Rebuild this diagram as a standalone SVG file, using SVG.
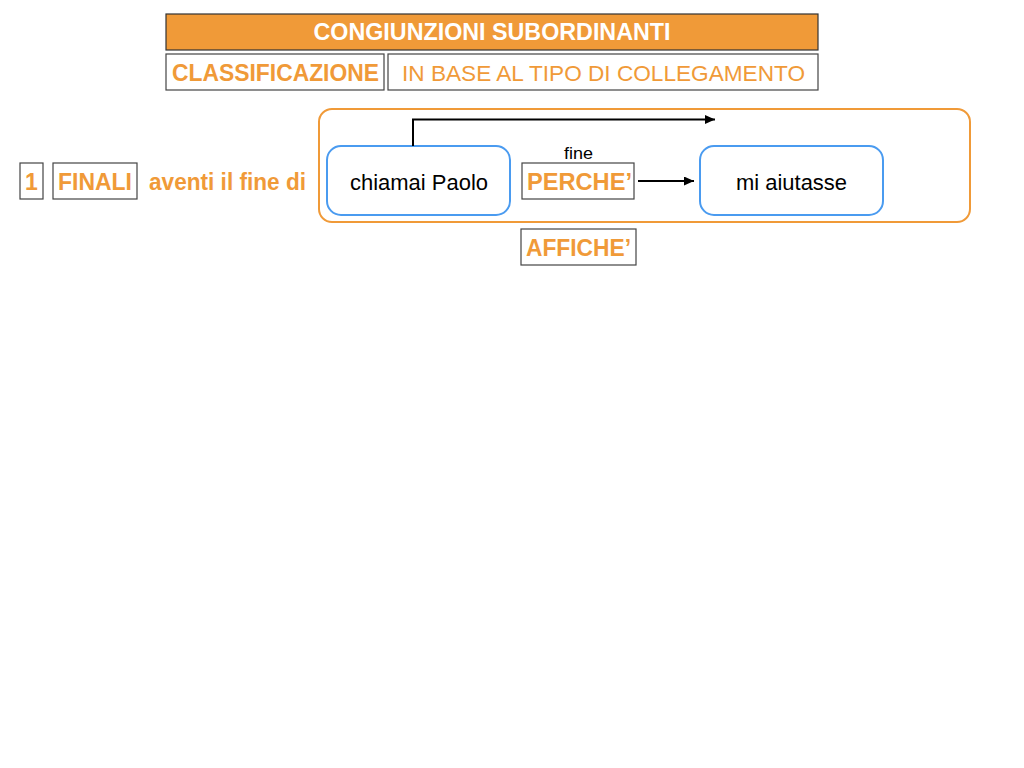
<svg xmlns="http://www.w3.org/2000/svg" width="1024" height="768" viewBox="0 0 1024 768">
<defs>
<style>
.box{fill:#fff;stroke:#444;stroke-width:1.2}
.or{fill:#F09A38;font-family:"Liberation Sans",Arial,sans-serif;font-weight:bold;font-size:23px}
.orr{fill:#F09A38;font-family:"Liberation Sans",Arial,sans-serif;font-size:22.5px}
.blk{fill:#000;font-family:"Liberation Sans",Arial,sans-serif;font-size:22px}
.node{fill:#fff;stroke:#4A9BF0;stroke-width:2}
.conn{fill:none;stroke:#000;stroke-width:2}
</style>
<marker id="arr" viewBox="0 0 10 10" refX="10" refY="5" markerWidth="5" markerHeight="4.5" orient="auto" markerUnits="strokeWidth" preserveAspectRatio="none">
<path d="M0,0 L10,5 L0,10 z" fill="#000"/>
</marker>
</defs>
<rect width="1024" height="768" fill="#fff"/>
<g id="title">
<rect x="166" y="14" width="652" height="36" fill="#F09A38" stroke="#333" stroke-width="1.2"/>
<text x="492" y="40" text-anchor="middle" fill="#fff" font-family="Liberation Sans,Arial,sans-serif" font-weight="bold" font-size="23" textLength="357" lengthAdjust="spacingAndGlyphs">CONGIUNZIONI SUBORDINANTI</text>
</g>
<g id="classificazione">
<rect class="box" x="166" y="54" width="218" height="36"/>
<text class="or" x="275.5" y="81" text-anchor="middle" textLength="207" lengthAdjust="spacingAndGlyphs">CLASSIFICAZIONE</text>
</g>
<g id="inbase">
<rect class="box" x="388" y="54" width="430" height="36"/>
<text class="orr" x="603.5" y="81" text-anchor="middle" textLength="403" lengthAdjust="spacingAndGlyphs">IN BASE AL TIPO DI COLLEGAMENTO</text>
</g>
<g id="num1">
<rect class="box" x="20" y="163" width="23" height="36"/>
<text class="or" x="31.5" y="190" text-anchor="middle">1</text>
</g>
<g id="finali">
<rect class="box" x="53" y="163" width="84" height="36"/>
<text class="or" x="95" y="190" text-anchor="middle" textLength="74" lengthAdjust="spacingAndGlyphs">FINALI</text>
</g>
<g id="aventi">
<text class="or" x="227.5" y="190" text-anchor="middle" textLength="157" lengthAdjust="spacingAndGlyphs">aventi il fine di</text>
</g>
<g id="group">
<rect x="319" y="109" width="651" height="113" rx="13" fill="none" stroke="#F09A38" stroke-width="2"/>
</g>
<g id="chiamai">
<rect class="node" x="327" y="146" width="183" height="69" rx="14"/>
<text class="blk" x="419" y="190" text-anchor="middle" textLength="138" lengthAdjust="spacingAndGlyphs">chiamai Paolo</text>
</g>
<g id="perche">
<text x="578.5" y="159" text-anchor="middle" font-family="Liberation Sans,Arial,sans-serif" font-size="17" fill="#000" textLength="29" lengthAdjust="spacingAndGlyphs">fine</text>
<rect class="box" x="522" y="163" width="112" height="36"/>
<text class="or" x="579.5" y="190" text-anchor="middle" textLength="105" lengthAdjust="spacingAndGlyphs">PERCHE’</text>
</g>
<g id="aiutasse">
<rect class="node" x="700" y="146" width="183" height="69" rx="14"/>
<text class="blk" x="791.5" y="190" text-anchor="middle" textLength="111" lengthAdjust="spacingAndGlyphs">mi aiutasse</text>
</g>
<g id="affiche">
<rect class="box" x="521" y="229" width="115" height="36"/>
<text class="or" x="578.5" y="256" text-anchor="middle" textLength="105" lengthAdjust="spacingAndGlyphs">AFFICHE’</text>
</g>
<g id="connectors">
<path class="conn" d="M413,146 V119.5 H715" marker-end="url(#arr)"/>
<path class="conn" d="M638,181 H694" marker-end="url(#arr)"/>
</g>
</svg>
